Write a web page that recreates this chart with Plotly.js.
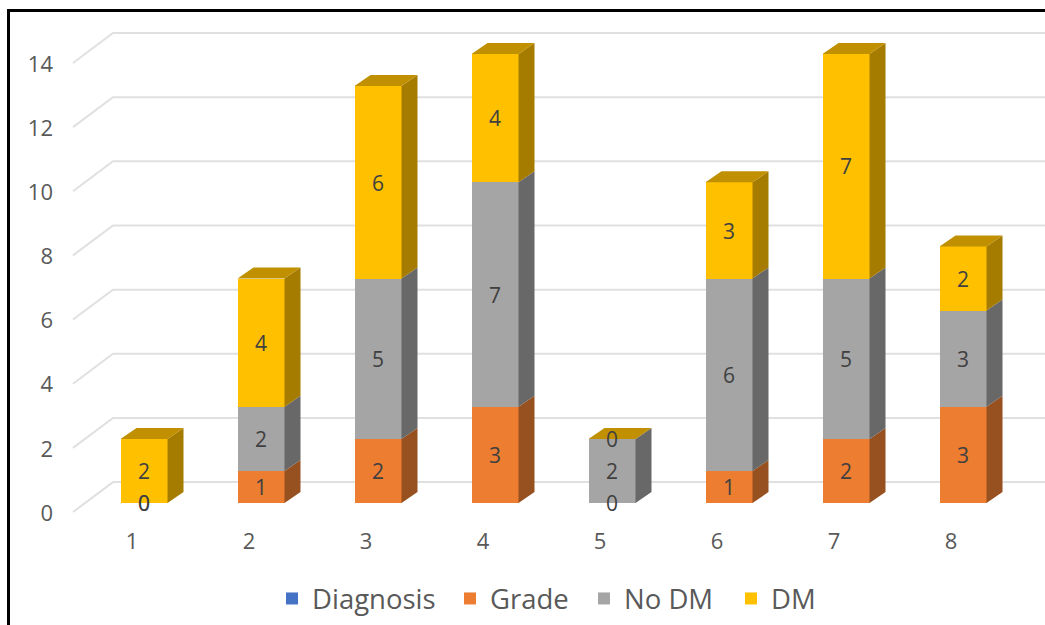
<!DOCTYPE html>
<html>
<head>
<meta charset="utf-8">
<script src="https://cdn.plot.ly/plotly-3.0.1.min.js"></script>
<style>
html,body{margin:0;padding:0;background:#fff;overflow:hidden}
#chart{position:absolute;left:0;top:0;width:1045px;height:625px}
#frame{position:absolute;left:7px;top:9px;width:1045px;height:625px;border-left:3px solid #000;border-top:3px solid #000;pointer-events:none}
</style>
</head>
<body>
<div id="chart"></div>
<div id="frame"></div>
<script>
// ---- data ----
const categories = [1, 2, 3, 4, 5, 6, 7, 8];
const diagnosis  = [null, null, null, null, null, null, null, null];
const grade      = [0, 1, 2, 3, 0, 1, 2, 3];
const noDM       = [0, 2, 5, 7, 2, 6, 5, 3];
const dm         = [2, 4, 6, 4, 0, 3, 7, 2];
const yTickLabels = [0, 2, 4, 6, 8, 10, 12, 14];

// ---- pseudo-3D look (in axis units) ----
const pxX = 117, pxY = 32.14;
const barW = 47 / pxX;
const depthX = 16 / pxX, depthY = 11 / pxY;
const xMin = 1 - 74 / pxX, xMax = 1 + 901 / pxX;
const yMin = -22 / pxY, yMax = 483 / pxY;
const gridFrontX = 1 - 71 / pxX, gridBackX = 1 - 31 / pxX;
const gridFrontDrop = 9 / pxY, gridBackRise = 21 / pxY;
const xLabelShift = 12 / pxX;
const yLabelDrop = 10 / pxY;
const dataLabelDrop = 3 / pxY;

const names = ['Grade', 'No DM', 'DM'];
const values = [grade, noDM, dm];
const frontColors = ['#ED7D31', '#A5A5A5', '#FFC000'];
const sideColors = ['#97501F', '#686868', '#A67C00'];
const topColor = '#C09000';
const textFont = {family: '"Open Sans", sans-serif', size: 21, color: '#404040'};
const legendIds = ['legend', 'legend2', 'legend3', 'legend4'];
const legendLeftPx = [272, 450, 584, 731];

const traces = [];
traces.push({type: 'bar', name: 'Diagnosis', x: categories, y: diagnosis, width: barW, legend: legendIds[0],
  marker: {color: '#4472C4'}, hoverinfo: 'skip'});

// front faces
values.forEach((v, s) => traces.push({type: 'bar', name: names[s], x: categories, y: v, width: barW, legend: legendIds[s + 1],
  marker: {color: frontColors[s], line: {width: 0}}, hoverinfo: 'skip'}));

// cumulative bases
const bases = values.map((v, s) => categories.map((c, i) => {
  let b = 0; for (let k = 0; k < s; k++) b += values[k][i]; return b;
}));

// side faces
values.forEach((v, s) => {
  const xs = [], ys = [];
  categories.forEach((c, i) => {
    const r = c + barW / 2, b = bases[s][i], t = b + v[i];
    xs.push(r, r + depthX, r + depthX, r, r, null);
    ys.push(b, b + depthY, t + depthY, t, b, null);
  });
  traces.push({type: 'scatter', mode: 'lines', x: xs, y: ys, fill: 'toself', fillcolor: sideColors[s],
    line: {width: 0, color: sideColors[s]}, showlegend: false, hoverinfo: 'skip'});
});

// top faces of the stacks
{
  const xs = [], ys = [];
  categories.forEach((c, i) => {
    const l = c - barW / 2, r = c + barW / 2;
    const t = grade[i] + noDM[i] + dm[i];
    xs.push(l, r, r + depthX, l + depthX, l, null);
    ys.push(t, t, t + depthY, t + depthY, t, null);
  });
  traces.push({type: 'scatter', mode: 'lines', x: xs, y: ys, fill: 'toself', fillcolor: topColor,
    line: {width: 0, color: topColor}, showlegend: false, hoverinfo: 'skip'});
}

// data labels
values.forEach((v, s) => traces.push({type: 'scatter', mode: 'text', x: categories,
  y: v.map((val, i) => bases[s][i] + val / 2 - dataLabelDrop), text: v.map(String), textposition: 'middle center',
  textfont: textFont, showlegend: false, hoverinfo: 'skip'}));

// gridlines: front edge of the floor/wall going back, then along the back wall
const shapes = yTickLabels.map(t => ({
  type: 'path', layer: 'below', xref: 'x', yref: 'y',
  path: `M${gridFrontX},${t - gridFrontDrop} L${gridBackX},${t + gridBackRise} L${xMax},${t + gridBackRise}`,
  line: {color: '#E0E0E0', width: 2}
}));

const layout = {
  width: 1045, height: 625,
  margin: {l: 70, r: 0, t: 20.5, b: 99.5, pad: 0},
  paper_bgcolor: '#fff', plot_bgcolor: '#fff',
  barmode: 'stack', bargap: 0,
  font: {family: '"Open Sans", sans-serif', color: '#595959'},
  showlegend: true,
  xaxis: {type: 'linear', range: [xMin, xMax], showgrid: false, zeroline: false, showline: false, ticks: '',
    tickmode: 'array', tickvals: categories.map(c => c - xLabelShift), ticktext: categories.map(String),
    tickfont: {size: 22, color: '#595959'}, ticklabelstandoff: 1},
  yaxis: {range: [yMin, yMax], showgrid: false, zeroline: false, showline: false, ticks: '',
    tickmode: 'array', tickvals: yTickLabels.map(t => t - yLabelDrop), ticktext: yTickLabels.map(String),
    tickfont: {size: 22, color: '#595959'}, ticklabelstandoff: 16},
  shapes: shapes
};

legendIds.forEach((id, k) => {
  layout[id] = {orientation: 'h', x: (legendLeftPx[k] - 70) / 975, xanchor: 'left', y: -0.146, yanchor: 'middle',
    font: {size: 27.5, color: '#595959'}, bgcolor: 'rgba(0,0,0,0)', itemwidth: 30};
});

Plotly.newPlot('chart', traces, layout, {displayModeBar: false});
</script>
</body>
</html>
